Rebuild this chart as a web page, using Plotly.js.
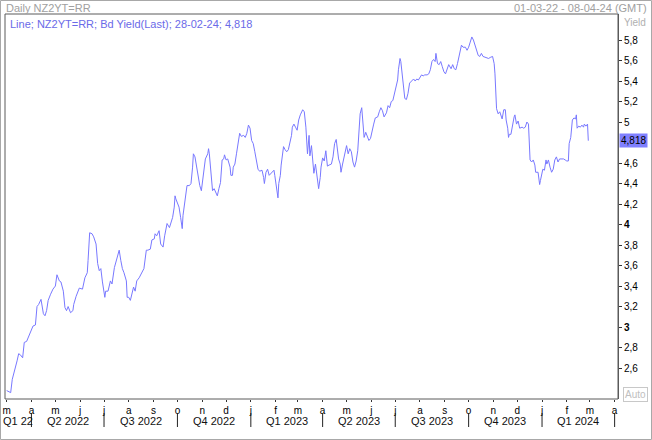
<!DOCTYPE html>
<html>
<head>
<meta charset="utf-8">
<script src="https://cdn.plot.ly/plotly-3.0.1.min.js"></script>
<style>
html,body{margin:0;padding:0;background:#fff;}
#chart{width:652px;height:440px;}
</style>
</head>
<body>
<div id="chart"></div>
<script>
const dates = [
'2022-03-01','2022-03-04','2022-03-06','2022-03-08','2022-03-11','2022-03-14','2022-03-16','2022-03-18','2022-03-21','2022-03-23',
'2022-03-26','2022-03-28','2022-03-30','2022-04-01','2022-04-03','2022-04-06','2022-04-08','2022-04-10','2022-04-13','2022-04-16',
'2022-04-18','2022-04-20','2022-04-22','2022-04-25','2022-04-28','2022-05-01','2022-05-03','2022-05-06','2022-05-08','2022-05-11',
'2022-05-13','2022-05-15','2022-05-17','2022-05-20','2022-05-23','2022-05-24','2022-05-27','2022-05-31','2022-06-04','2022-06-07',
'2022-06-10','2022-06-11','2022-06-13','2022-06-16','2022-06-18','2022-06-21','2022-06-23','2022-06-25','2022-06-27','2022-06-29',
'2022-07-02','2022-07-03','2022-07-06','2022-07-09','2022-07-11','2022-07-14','2022-07-17','2022-07-20','2022-07-22','2022-07-24',
'2022-07-26','2022-07-29','2022-07-30','2022-08-01','2022-08-03','2022-08-05','2022-08-07','2022-08-09','2022-08-11','2022-08-14',
'2022-08-17','2022-08-20','2022-08-23','2022-08-25','2022-08-28','2022-08-30','2022-09-02','2022-09-03','2022-09-05','2022-09-08',
'2022-09-10','2022-09-13','2022-09-15','2022-09-18','2022-09-21','2022-09-23','2022-09-25','2022-09-27','2022-09-28','2022-09-29',
'2022-10-01','2022-10-03','2022-10-05','2022-10-07','2022-10-08','2022-10-10','2022-10-12','2022-10-13','2022-10-16','2022-10-18',
'2022-10-20','2022-10-21','2022-10-23','2022-10-25','2022-10-27','2022-10-29','2022-10-31','2022-11-02','2022-11-03','2022-11-05',
'2022-11-08','2022-11-09','2022-11-10','2022-11-12','2022-11-14','2022-11-16','2022-11-18','2022-11-20','2022-11-22','2022-11-24',
'2022-11-26','2022-11-28','2022-11-29','2022-12-01','2022-12-03','2022-12-06','2022-12-07','2022-12-09','2022-12-10','2022-12-12',
'2022-12-14','2022-12-16','2022-12-18','2022-12-20','2022-12-23','2022-12-25','2022-12-27','2022-12-29','2022-12-31','2023-01-02',
'2023-01-04','2023-01-06','2023-01-08','2023-01-10','2023-01-12','2023-01-15','2023-01-17','2023-01-18','2023-01-20','2023-01-22',
'2023-01-24','2023-01-26','2023-01-28','2023-01-30','2023-01-31','2023-02-02','2023-02-04','2023-02-05','2023-02-07','2023-02-08',
'2023-02-09','2023-02-11','2023-02-13','2023-02-15','2023-02-17','2023-02-19','2023-02-21','2023-02-22','2023-02-24','2023-02-26',
'2023-02-28','2023-03-02','2023-03-04','2023-03-07','2023-03-09','2023-03-11','2023-03-12','2023-03-13','2023-03-15','2023-03-16',
'2023-03-18','2023-03-20','2023-03-21','2023-03-23','2023-03-25','2023-03-27','2023-03-29','2023-03-30','2023-04-01','2023-04-03',
'2023-04-05','2023-04-07','2023-04-09','2023-04-12','2023-04-14','2023-04-16','2023-04-18','2023-04-19','2023-04-21','2023-04-23',
'2023-04-24','2023-04-26','2023-04-28','2023-04-30','2023-05-01','2023-05-03','2023-05-05','2023-05-07','2023-05-09','2023-05-11',
'2023-05-13','2023-05-15','2023-05-16','2023-05-18','2023-05-20','2023-05-21','2023-05-23','2023-05-25','2023-05-27','2023-05-29',
'2023-05-31','2023-06-02','2023-06-04','2023-06-06','2023-06-09','2023-06-11','2023-06-13','2023-06-15','2023-06-17','2023-06-20',
'2023-06-22','2023-06-24','2023-06-26','2023-06-28','2023-06-30','2023-07-02','2023-07-04','2023-07-05','2023-07-07','2023-07-08',
'2023-07-10','2023-07-12','2023-07-13','2023-07-15','2023-07-17','2023-07-19','2023-07-22','2023-07-24','2023-07-26','2023-07-28',
'2023-07-30','2023-08-01','2023-08-03','2023-08-05','2023-08-07','2023-08-10','2023-08-12','2023-08-14','2023-08-16','2023-08-18',
'2023-08-20','2023-08-21','2023-08-23','2023-08-25','2023-08-27','2023-08-29','2023-08-31','2023-09-02','2023-09-04','2023-09-06',
'2023-09-09','2023-09-11','2023-09-13','2023-09-15','2023-09-17','2023-09-19','2023-09-21','2023-09-22','2023-09-24','2023-09-27',
'2023-09-29','2023-10-01','2023-10-03','2023-10-05','2023-10-07','2023-10-09','2023-10-11','2023-10-13','2023-10-15','2023-10-17',
'2023-10-19','2023-10-22','2023-10-26','2023-10-28','2023-10-31','2023-11-02','2023-11-03','2023-11-05','2023-11-07','2023-11-09',
'2023-11-12','2023-11-14','2023-11-16','2023-11-17','2023-11-19','2023-11-20','2023-11-21','2023-11-23','2023-11-25','2023-11-27',
'2023-11-28','2023-11-30','2023-12-02','2023-12-03','2023-12-04','2023-12-07','2023-12-09','2023-12-11','2023-12-13','2023-12-15',
'2023-12-16','2023-12-17','2023-12-19','2023-12-21','2023-12-23','2023-12-24','2023-12-27','2023-12-28','2023-12-29','2023-12-30',
'2024-01-01','2024-01-02','2024-01-04','2024-01-06','2024-01-07','2024-01-09','2024-01-11','2024-01-13','2024-01-15','2024-01-17',
'2024-01-19','2024-01-21','2024-01-23','2024-01-26','2024-01-28','2024-01-30','2024-02-01','2024-02-03','2024-02-04','2024-02-06',
'2024-02-07','2024-02-08','2024-02-10','2024-02-12','2024-02-13','2024-02-14','2024-02-16','2024-02-18','2024-02-20','2024-02-22',
'2024-02-23','2024-02-25','2024-02-27','2024-02-28'
];
const yields = [
2.38,2.37,2.36,2.49,2.57,2.67,2.74,2.73,2.70,2.85,
2.86,2.90,2.93,2.96,3.01,3.02,3.20,3.22,3.27,3.13,
3.11,3.16,3.26,3.32,3.37,3.40,3.51,3.45,3.44,3.35,
3.19,3.16,3.20,3.14,3.16,3.22,3.30,3.38,3.37,3.48,
3.53,3.65,3.92,3.91,3.88,3.81,3.62,3.55,3.57,3.44,
3.29,3.35,3.35,3.45,3.42,3.58,3.68,3.75,3.65,3.57,
3.53,3.45,3.29,3.29,3.26,3.34,3.39,3.35,3.45,3.48,
3.52,3.57,3.75,3.75,3.76,3.85,3.86,3.91,3.89,3.94,
3.81,3.78,3.89,4.01,3.97,4.02,4.07,4.17,4.28,4.25,
4.20,4.17,4.07,3.96,4.09,4.23,4.32,4.38,4.38,4.40,
4.56,4.69,4.66,4.56,4.48,4.38,4.33,4.48,4.56,4.64,
4.69,4.74,4.69,4.53,4.33,4.35,4.32,4.28,4.35,4.41,
4.63,4.64,4.68,4.63,4.64,4.56,4.48,4.48,4.56,4.59,
4.69,4.79,4.89,4.86,4.87,4.85,4.89,4.97,4.94,4.82,
4.79,4.71,4.64,4.54,4.52,4.53,4.46,4.40,4.51,4.54,
4.48,4.50,4.51,4.53,4.48,4.38,4.26,4.40,4.48,4.58,
4.66,4.76,4.73,4.71,4.73,4.79,4.87,4.95,4.98,4.95,
4.92,5.02,5.07,5.12,5.10,4.95,4.84,4.69,4.87,4.67,
4.77,4.56,4.50,4.59,4.46,4.35,4.46,4.56,4.65,4.62,
4.72,4.57,4.58,4.59,4.66,4.79,4.83,4.76,4.64,4.59,
4.51,4.59,4.67,4.73,4.77,4.69,4.74,4.71,4.61,4.56,
4.62,4.72,4.85,5.08,5.14,5.02,4.85,4.90,4.85,4.82,
4.84,4.92,4.98,5.04,5.05,5.10,5.14,5.11,5.05,5.09,
5.16,5.14,5.20,5.21,5.28,5.34,5.41,5.51,5.62,5.59,
5.44,5.34,5.23,5.22,5.28,5.38,5.41,5.42,5.40,5.42,
5.41,5.43,5.46,5.45,5.46,5.46,5.47,5.51,5.59,5.61,
5.59,5.67,5.57,5.56,5.59,5.54,5.49,5.47,5.52,5.56,
5.52,5.56,5.52,5.51,5.57,5.64,5.70,5.75,5.73,5.73,
5.70,5.73,5.78,5.83,5.80,5.75,5.72,5.65,5.64,5.67,
5.64,5.63,5.62,5.63,5.64,5.57,5.47,5.13,5.08,5.10,
5.03,5.12,5.12,5.02,4.94,4.85,4.88,4.88,4.98,5.05,
5.07,4.98,5.01,4.96,4.94,4.95,4.94,4.95,5.00,4.98,
4.85,4.63,4.61,4.63,4.58,4.51,4.51,4.46,4.39,4.43,
4.50,4.54,4.53,4.63,4.59,4.63,4.56,4.51,4.54,4.63,
4.66,4.61,4.64,4.64,4.64,4.63,4.62,4.62,4.79,4.85,
4.92,5.02,5.04,5.03,5.07,4.94,4.96,4.95,4.97,4.95,
4.98,4.96,4.98,4.818
];

// Axis labels
const yTickVals = [2.6,2.8,3,3.2,3.4,3.6,3.8,4,4.2,4.4,4.6,5,5.2,5.4,5.6,5.8];
const yTickText = ['2,6','2,8','<b>3</b>','3,2','3,4','3,6','3,8','<b>4</b>','4,2','4,4','4,6','5','5,2','5,4','5,6','5,8'];
const monthTicks = ['2022-03-01','2022-04-01','2022-05-01','2022-06-01','2022-07-01','2022-08-01','2022-09-01','2022-10-01',
  '2022-11-01','2022-12-01','2023-01-01','2023-02-01','2023-03-01','2023-04-01','2023-05-01','2023-06-01','2023-07-01',
  '2023-08-01','2023-09-01','2023-10-01','2023-11-01','2023-12-01','2024-01-01','2024-02-01','2024-03-01','2024-04-01'];
const monthLetters = ['m','a','m','j','j','a','s','o','n','d','j','f','m','a','m','j','j','a','s','o','n','d','j','f','m','a'];
const quarterBounds = ['2022-04-01','2022-07-01','2022-10-01','2023-01-01','2023-04-01','2023-07-01','2023-10-01','2024-01-01','2024-04-01'];
const quarterLabels = ['Q1 22','Q2 2022','Q3 2022','Q4 2022','Q1 2023','Q2 2023','Q3 2023','Q4 2023','Q1 2024'];
const xRange = ['2022-02-26 21:00','2024-04-05 05:00'];
const lastLabel = '4,818';
const lastValue = 4.818;

const PW = 613, PH = 385, ML = 5, MT = 14;
const px = v => (v - ML) / PW;          // page x -> paper
const py = v => (MT + PH - v) / PH;     // page y -> paper

function toMs(s){ return Date.parse(s.replace(' ', 'T') + (s.length > 10 ? ':00Z' : 'T00:00:00Z')); }
function fromMs(ms){ const iso = new Date(ms).toISOString(); return iso.slice(0,10) + ' ' + iso.slice(11,19); }

const annotations = [];
const shapes = [];
const font = 'Liberation Sans, Arial, sans-serif';

// quarter labels
for (let i = 0; i < quarterLabels.length; i++) {
  const a = i === 0 ? toMs(xRange[0]) : toMs(quarterBounds[i-1]);
  const b = toMs(quarterBounds[i]);
  annotations.push({xref:'x', yref:'paper', x: fromMs((a+b)/2), y: py(421), text: quarterLabels[i],
    showarrow:false, xanchor:'center', yanchor:'middle', font:{family:font, size:11, color:'#111'}});
}
quarterBounds.forEach(d => shapes.push({type:'line', xref:'x', yref:'paper', x0:d, x1:d, y0:py(427), y1:py(413),
  line:{color:'#222', width:1}}));

// plot frame
shapes.push({type:'rect', xref:'paper', yref:'paper', x0:0, x1:1, y0:0, y1:1, line:{color:'#5a5a5a', width:1}});
// outer border
shapes.push({type:'rect', xref:'paper', yref:'paper', x0:px(0.5), x1:px(651.5), y0:py(439.5), y1:py(0.5), line:{color:'#a8a8a8', width:1}});

// header texts
annotations.push({xref:'paper', yref:'paper', x:px(4), y:py(8), text:'Daily NZ2YT=RR', showarrow:false,
  xanchor:'left', yanchor:'middle', font:{family:font, size:11, color:'#a0a0a0'}});
annotations.push({xref:'paper', yref:'paper', x:px(649), y:py(8), text:'01-03-22 - 08-04-24 (GMT)', showarrow:false,
  xanchor:'right', yanchor:'middle', font:{family:font, size:11, color:'#a0a0a0'}});
annotations.push({xref:'paper', yref:'paper', x:px(622), y:py(22), text:'Yield', showarrow:false,
  xanchor:'left', yanchor:'middle', font:{family:font, size:10, color:'#b0b0b0'}});
annotations.push({xref:'paper', yref:'paper', x:px(8), y:py(24), text:'Line; NZ2YT=RR; Bd Yield(Last); 28-02-24; 4,818', showarrow:false,
  xanchor:'left', yanchor:'middle', font:{family:font, size:11, color:'#6a6ae8'}});
// last value marker
annotations.push({xref:'paper', yref:'y', x:px(619), y:lastValue, text:lastLabel, showarrow:false,
  xanchor:'left', yanchor:'middle', bgcolor:'#8080ff', borderpad:1, font:{family:font, size:10, color:'#000'}});
// Auto box
annotations.push({xref:'paper', yref:'paper', x:px(623), y:py(394), text:'Auto', showarrow:false,
  xanchor:'left', yanchor:'middle', bordercolor:'#c8c8c8', borderwidth:1, borderpad:1, font:{family:font, size:10, color:'#c0c0c0'}});

const trace = {x: dates, y: yields, type:'scatter', mode:'lines', line:{color:'#7878ff', width:1}, hoverinfo:'skip'};

const layout = {
  width:652, height:440,
  margin:{l:ML, r:652-ML-PW, t:MT, b:440-MT-PH, pad:0},
  paper_bgcolor:'#fff', plot_bgcolor:'#fff',
  showlegend:false,
  xaxis:{type:'date', range:xRange, tickmode:'array', tickvals:monthTicks, ticktext:monthLetters,
    ticks:'outside', ticklen:2, tickcolor:'#333', showgrid:false, zeroline:false, showline:false,
    tickfont:{family:font, size:10, color:'#000'}, fixedrange:true},
  yaxis:{side:'right', range:[2.298, 6.054], tickmode:'array', tickvals:yTickVals, ticktext:yTickText,
    ticks:'outside', ticklen:3, tickcolor:'#333', showgrid:false, zeroline:false, showline:true, linecolor:'#5a5a5a',
    tickfont:{family:font, size:10, color:'#000'}, fixedrange:true},
  annotations: annotations,
  shapes: shapes
};

Plotly.newPlot('chart', [trace], layout, {displayModeBar:false, staticPlot:true});
</script>
</body>
</html>
